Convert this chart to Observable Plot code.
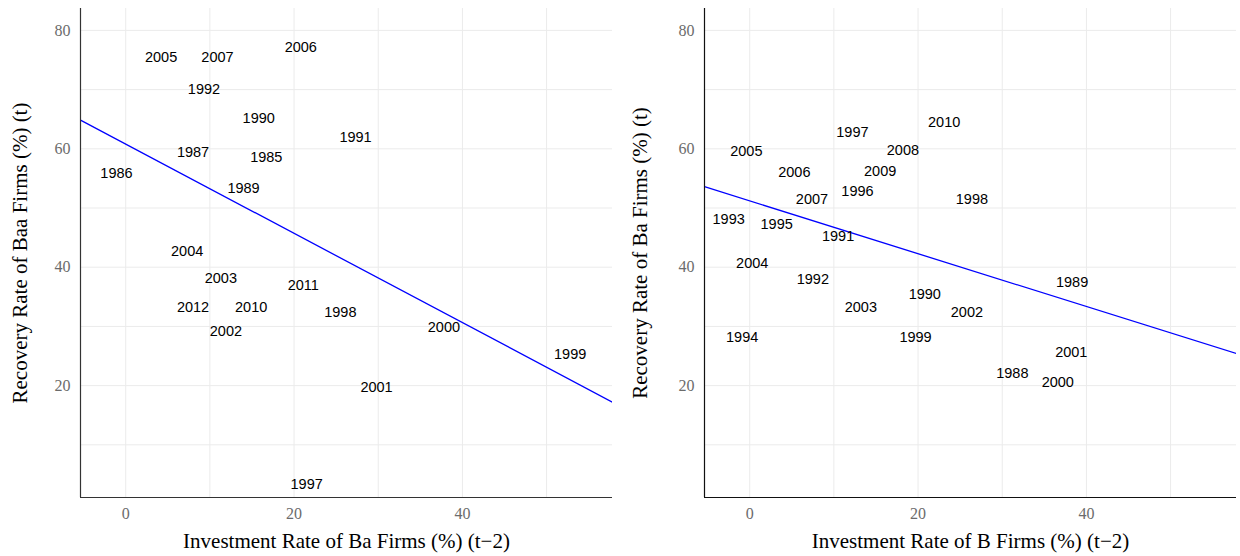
<!DOCTYPE html>
<html><head><meta charset="utf-8">
<script src="https://cdn.jsdelivr.net/npm/d3@7"></script>
<script src="https://cdn.jsdelivr.net/npm/@observablehq/plot@0.6"></script>
<style>
body{margin:0;background:#fff}
#wrap{display:flex;width:1240px;height:556px}
</style>
</head><body><div id="wrap"></div>
<script>
// Left panel: Baa recovery vs Ba investment (t-2)
const baaYears    = [2005, 2007, 2006, 1992, 1990, 1987, 1985, 1986, 1989, 2004, 1991, 2003, 2011, 2012, 2010, 2002, 1997, 1998, 2000, 1999, 2001];
const baaInvest   = [4.2, 10.9, 20.8, 9.3, 15.8, 8.0, 16.7, -1.1, 14.0, 7.3, 27.3, 11.3, 21.1, 8.0, 14.9, 11.9, 21.5, 25.5, 37.8, 52.8, 29.8];
const baaRecovery = [75.4, 75.4, 77.1, 70.1, 65.2, 59.4, 58.5, 55.9, 53.4, 42.7, 61.9, 38.2, 36.9, 33.3, 33.3, 29.1, 3.4, 32.3, 29.8, 25.3, 19.7];
const baaFit = [60.8, -0.754]; // intercept, slope

// Right panel: Ba recovery vs B investment (t-2)
const baYears    = [1997, 2005, 2008, 2006, 2009, 1996, 2007, 1993, 1995, 1991, 2004, 2010, 1998, 1992, 2003, 1990, 1994, 1999, 1989, 2002, 2001, 1988, 2000];
const baInvest   = [12.2, -0.4, 18.2, 5.3, 15.5, 12.8, 7.4, -2.5, 3.2, 10.5, 0.3, 23.1, 26.4, 7.5, 13.2, 20.8, -0.9, 19.7, 38.3, 25.8, 38.2, 31.2, 36.6];
const baRecovery = [62.7, 59.6, 59.8, 56.0, 56.2, 52.8, 51.5, 48.0, 47.2, 45.2, 40.6, 64.4, 51.5, 37.9, 33.2, 35.4, 28.1, 28.1, 37.5, 32.3, 25.7, 22.0, 20.5];
const baFit = [51.2, -0.446];

const xTicks = [0, 20, 40];
const yTicks = [20, 40, 60, 80];
const xGrid = [0, 10, 20, 30, 40, 50];
const yGrid = [10, 20, 30, 40, 50, 60, 70, 80];
const xDomain = [-5.37, 57.83];
const yDomain = [1.1, 83.7];

function panel({years, invest, recovery, fit, xLabel, yLabel, marginLeft, marginRight, axisColor}) {
  const data = years.map((yr, i) => ({year: String(yr), x: invest[i], y: recovery[i]}));
  const lineData = xDomain.map(x => ({x, y: fit[0] + fit[1] * x}));
  return Plot.plot({
    width: 620,
    height: 556,
    marginLeft, marginRight,
    marginTop: 8,
    marginBottom: 59,
    style: {background: "white", overflow: "visible"},
    x: {domain: xDomain},
    y: {domain: yDomain},
    marks: [
      Plot.gridX(xGrid, {stroke: "#ebebeb", strokeOpacity: 1, strokeWidth: 1}),
      Plot.gridY(yGrid, {stroke: "#ebebeb", strokeOpacity: 1, strokeWidth: 1}),
      Plot.axisX(xTicks, {tickSize: 0, tickPadding: 10, fontSize: 16, fontFamily: "Liberation Serif", color: "#6b6b6b", label: null}),
      Plot.axisY(yTicks, {tickSize: 0, tickPadding: 10, fontSize: 16, fontFamily: "Liberation Serif", color: "#6b6b6b", label: null}),
      Plot.line(lineData, {x: "x", y: "y", stroke: "#0000ff", strokeWidth: 1.3, clip: true}),
      Plot.text(data, {x: "x", y: "y", text: "year", fontFamily: "Liberation Sans", fontSize: 14.5, fill: "black"}),
      Plot.ruleX([xDomain[0]], {stroke: axisColor, strokeWidth: 1.2}),
      Plot.ruleY([yDomain[0]], {stroke: axisColor, strokeWidth: 1.2}),
      Plot.text([xLabel], {frameAnchor: "bottom", dy: 43.5, textAnchor: "middle", lineAnchor: "middle", fontFamily: "Liberation Serif", fontSize: 21, fill: "black", text: d => d}),
      Plot.text([yLabel], {frameAnchor: "left", dx: -(marginLeft - 20), rotate: -90, textAnchor: "middle", lineAnchor: "middle", fontFamily: "Liberation Serif", fontSize: 21, fill: "black", text: d => d})
    ]
  });
}

const wrap = document.getElementById("wrap");
wrap.appendChild(panel({
  years: baaYears, invest: baaInvest, recovery: baaRecovery, fit: baaFit,
  xLabel: "Investment Rate of Ba Firms (%) (t\u22122)",
  yLabel: "Recovery Rate of Baa Firms (%) (t)",
  marginLeft: 80, marginRight: 8, axisColor: "#333333"
}));
wrap.appendChild(panel({
  years: baYears, invest: baInvest, recovery: baRecovery, fit: baFit,
  xLabel: "Investment Rate of B Firms (%) (t\u22122)",
  yLabel: "Recovery Rate of Ba Firms (%) (t)",
  marginLeft: 84, marginRight: 4, axisColor: "#111111"
}));
</script>
</body></html>
